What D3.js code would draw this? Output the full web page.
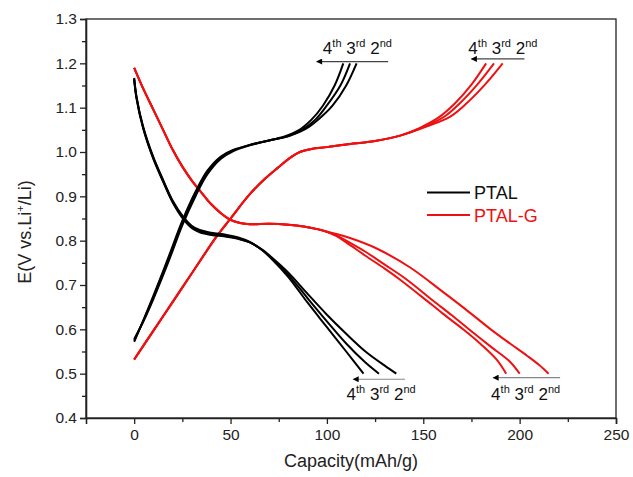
<!DOCTYPE html>
<html>
<head>
<meta charset="utf-8">
<script src="https://cdn.jsdelivr.net/npm/d3@7"></script>
<style>
  body { margin: 0; background: #fff; }
  svg { font-family: "Liberation Sans", Arial, sans-serif; }
</style>
</head>
<body>
<svg id="chart"></svg>
<script>
// capacity (mAh/g), voltage (V) pairs
const ptalDischarge4 = [[0,1.167],[1.2,1.125],[4.6,1.058],[9.8,0.99],[15,0.937],[20,0.89],[25.4,0.854],[30,0.833],[34,0.824],[40,0.818],[48,0.813],[54,0.807],[60,0.797],[66,0.78],[72,0.756],[80,0.718],[90,0.66],[100,0.605],[110,0.55],[119,0.5]];
const ptalDischarge3 = [[0,1.165],[1.2,1.123],[4.6,1.056],[9.8,0.988],[15,0.935],[20,0.888],[25.4,0.851],[30,0.83],[34,0.821],[40,0.815],[48,0.81],[54,0.805],[60,0.796],[66,0.78],[72,0.758],[80,0.723],[90,0.67],[100,0.618],[110,0.568],[120,0.525],[127,0.5]];
const ptalDischarge2 = [[0,1.163],[1.2,1.121],[4.6,1.054],[9.8,0.986],[15,0.933],[20,0.886],[25.4,0.849],[30,0.828],[34,0.819],[40,0.813],[48,0.809],[54,0.804],[60,0.796],[66,0.781],[72,0.76],[80,0.728],[90,0.68],[100,0.633],[110,0.59],[120,0.55],[130,0.518],[136,0.5]];

const ptalCharge4 = [[0,0.572],[5,0.623],[10,0.676],[18,0.765],[25,0.845],[32,0.912],[38,0.958],[45,0.99],[51,1.004],[60,1.016],[70,1.026],[78,1.035],[85,1.048],[92,1.073],[98,1.105],[104,1.15],[108.5,1.2]];
const ptalCharge3 = [[0,0.575],[5,0.622],[10,0.673],[18,0.76],[25,0.84],[32,0.907],[38,0.955],[45,0.988],[51,1.003],[60,1.016],[70,1.026],[80,1.036],[87,1.05],[94,1.073],[100,1.105],[107,1.15],[112,1.2]];
const ptalCharge2 = [[0,0.578],[5,0.62],[10,0.669],[18,0.755],[25,0.835],[32,0.902],[38,0.95],[45,0.985],[51,1.001],[60,1.015],[70,1.026],[81,1.037],[89,1.052],[96,1.075],[103,1.105],[110,1.15],[115.4,1.2]];

const redDisStart = [[0,1.19],[5,1.14],[10,1.095],[15,1.05],[20,1.005],[25,0.967],[30,0.935],[35,0.908],[40,0.882],[45,0.862],[50,0.847],[55,0.84],[60,0.837],[70,0.838],[80,0.836],[88,0.832],[95,0.826],[100,0.82]];
const ptalgDischarge4 = redDisStart.concat([[105,0.81],[110,0.796],[120,0.766],[130,0.737],[138,0.712],[150,0.671],[160,0.636],[171,0.599],[180,0.566],[188,0.532],[193,0.5]]);
const ptalgDischarge3 = redDisStart.concat([[105,0.812],[110,0.8],[120,0.775],[130,0.746],[141.5,0.712],[155,0.665],[165,0.631],[174,0.599],[185,0.561],[195,0.527],[200,0.5]]);
const ptalgDischarge2 = redDisStart.concat([[105,0.815],[112,0.806],[125,0.784],[143,0.74],[160,0.685],[172,0.645],[185,0.6],[195,0.568],[204,0.54],[210,0.52],[215,0.5]]);

const redChgStart = [[0,0.532],[10,0.597],[20,0.662],[30,0.727],[42.7,0.809],[50,0.85],[60,0.905],[68,0.94],[75,0.966],[80,0.984],[86,1.0],[92,1.007],[100,1.011],[110,1.017],[125,1.025],[138,1.037]];
const ptalgCharge4 = redChgStart.concat([[148,1.054],[158,1.078],[166.5,1.11],[175,1.152],[182.6,1.2]]);
const ptalgCharge3 = redChgStart.concat([[150,1.056],[161,1.08],[169,1.11],[178,1.152],[186.7,1.2]]);
const ptalgCharge2 = redChgStart.concat([[152,1.058],[164,1.08],[172.5,1.11],[182,1.152],[191.2,1.2]]);

const xTicks = [0, 50, 100, 150, 200, 250];
const xMinor = [25, 75, 125, 175, 225];
const yTicks = [0.4, 0.5, 0.6, 0.7, 0.8, 0.9, 1.0, 1.1, 1.2, 1.3];
const yMinor = [0.45, 0.55, 0.65, 0.75, 0.85, 0.95, 1.05, 1.15, 1.25];

const legendNames = ["PTAL", "PTAL-G"];
const cycleLabels = [["4", "th"], ["3", "rd"], ["2", "nd"]];
// annotation: text start x, text baseline y, arrow from x1 to x2 at y
const notes = [
    { tx: 97.9, ty: 1.222, x1: 94.7, x2: 131.8, y: 1.204, col: "#444" },
    { tx: 173.4, ty: 1.221, x1: 175, x2: 202.5, y: 1.21, col: "#444" },
    { tx: 110.2, ty: 0.4406, x1: 113.7, x2: 140.5, y: 0.4874, col: "#888" },
    { tx: 185.2, ty: 0.4406, x1: 186.3, x2: 221, y: 0.491, col: "#888" }
];

const width = 633, height = 477;
const margin = { top: 19, right: 17, bottom: 59, left: 86 };

const svg = d3.select("#chart").attr("width", width).attr("height", height);

const x = d3.scaleLinear().domain([-25, 250]).range([margin.left, width - margin.right]);
const y = d3.scaleLinear().domain([0.4, 1.3]).range([height - margin.bottom, margin.top]);

svg.append("defs").append("marker")
    .attr("id", "head")
    .attr("viewBox", "0 0 10 10")
    .attr("refX", 9).attr("refY", 5)
    .attr("markerWidth", 10).attr("markerHeight", 6)
    .attr("markerUnits", "userSpaceOnUse")
    .attr("orient", "auto")
    .append("path").attr("d", "M0,0 L10,5 L0,10 z").attr("fill", "#000");

// frame
svg.append("rect")
    .attr("x", x(-25)).attr("y", y(1.3))
    .attr("width", x(250) - x(-25)).attr("height", y(0.4) - y(1.3))
    .attr("fill", "none").attr("stroke", "#222").attr("stroke-width", 1.3);

const line = d3.line()
    .x(d => x(d[0]))
    .y(d => y(d[1]))
    .curve(d3.curveCatmullRom.alpha(0.5));

const black = [ptalDischarge4, ptalDischarge3, ptalDischarge2, ptalCharge4, ptalCharge3, ptalCharge2];
const red = [ptalgDischarge4, ptalgDischarge3, ptalgDischarge2, ptalgCharge4, ptalgCharge3, ptalgCharge2];

svg.append("g").selectAll("path").data(red).join("path")
    .attr("d", line).attr("fill", "none").attr("stroke", "#ee1111").attr("stroke-width", 2);
svg.append("g").selectAll("path").data(black).join("path")
    .attr("d", line).attr("fill", "none").attr("stroke", "#000").attr("stroke-width", 2);

// axes
svg.append("g")
    .attr("transform", `translate(0,${y(0.4)})`)
    .call(d3.axisBottom(x).tickValues(xTicks).tickSize(6).tickPadding(5).tickFormat(d3.format("d")));
svg.append("g")
    .attr("transform", `translate(0,${y(0.4)})`)
    .call(d3.axisBottom(x).tickValues(xMinor).tickSize(4).tickFormat(""))
    .call(g => g.select(".domain").remove());

svg.append("g")
    .attr("transform", `translate(${x(-25)},0)`)
    .call(d3.axisLeft(y).tickValues(yTicks).tickSize(6).tickPadding(3).tickFormat(d3.format(".1f")));
svg.append("g")
    .attr("transform", `translate(${x(-25)},0)`)
    .call(d3.axisLeft(y).tickValues(yMinor).tickSize(4).tickFormat(""))
    .call(g => g.select(".domain").remove());

svg.selectAll(".tick line").attr("stroke", "#222").attr("stroke-width", 1.3);
svg.selectAll(".domain").attr("stroke", "#222").attr("stroke-width", 1.6);
svg.selectAll(".tick text").attr("font-size", 15.5).attr("fill", "#222")
    .attr("font-family", "Liberation Sans, Arial, sans-serif");

// axis titles
svg.append("text")
    .attr("x", (x(-25) + x(250)) / 2).attr("y", 467)
    .attr("text-anchor", "middle").attr("font-size", 18).attr("fill", "#222")
    .text("Capacity(mAh/g)");

const yt = svg.append("text")
    .attr("transform", "translate(31,232) rotate(-90)")
    .attr("text-anchor", "middle").attr("font-size", 18).attr("fill", "#222");
yt.append("tspan").text("E(V vs.Li");
yt.append("tspan").attr("font-size", 11).attr("dy", -7).text("+");
yt.append("tspan").attr("dy", 7).text("/Li)");

// cycle annotations
notes.forEach(n => {
    svg.append("line")
        .attr("x1", x(n.x2)).attr("x2", x(n.x1))
        .attr("y1", y(n.y)).attr("y2", y(n.y))
        .attr("stroke", n.col).attr("stroke-width", 1.2)
        .attr("marker-end", "url(#head)");
    const t = svg.append("text")
        .attr("x", x(n.tx)).attr("y", y(n.ty))
        .attr("font-size", 17).attr("fill", "#111");
    cycleLabels.forEach((c, i) => {
        t.append("tspan").attr("dy", i === 0 ? 0 : 7).text((i === 0 ? "" : " ") + c[0]);
        t.append("tspan").attr("font-size", 11).attr("dy", -7).text(c[1]);
    });
});

// legend
const legendColors = ["#000", "#ee1111"];
const lg = svg.append("g");
legendNames.forEach((name, i) => {
    const ly = 192.5 + i * 22.5;
    lg.append("line")
        .attr("x1", 427).attr("x2", 470).attr("y1", ly).attr("y2", ly)
        .attr("stroke", legendColors[i]).attr("stroke-width", 1.9);
    lg.append("text")
        .attr("x", 474).attr("y", ly + 6.5)
        .attr("font-size", 18).attr("fill", i === 0 ? "#111" : "#ee1111")
        .text(name);
});
</script>
</body>
</html>
